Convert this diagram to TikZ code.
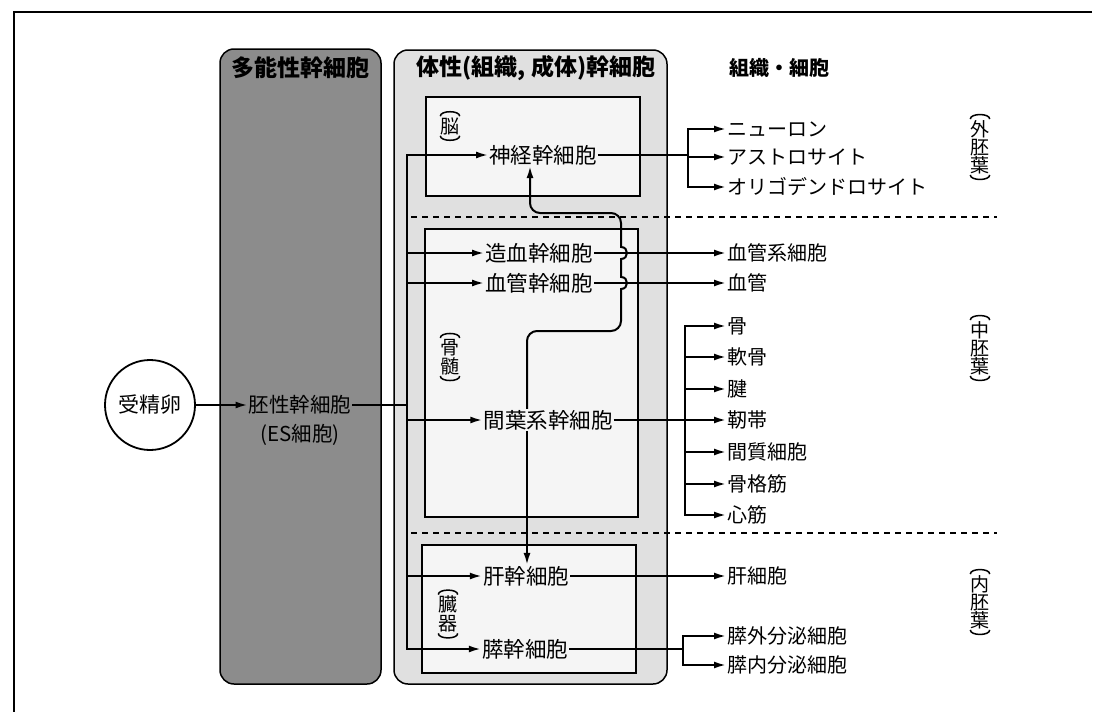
\documentclass[tikz,border=0pt]{standalone}
\usepackage{fontspec}
\setmainfont{Noto Sans CJK JP}
\usetikzlibrary{arrows.meta,calc}
\newcommand{\vparens}[1]{%
  \draw[parc] ([yshift=1pt]#1.north west) .. controls +(0,-6) and +(0,-6) .. ([yshift=1pt]#1.north east);
  \draw[parc] ([yshift=-1pt]#1.south west) .. controls +(0,6) and +(0,6) .. ([yshift=-1pt]#1.south east);}
\begin{document}
\begin{tikzpicture}[x=1pt,y=-1pt,
  every node/.style={inner sep=1pt, font=\fontsize{21.5}{24}\selectfont},
  ln/.style={line width=2pt},
  arr/.style={ln,-{Latex[length=12pt,width=7pt]}},
  hdr/.style={font=\fontsize{23}{26}\selectfont\bfseries},
  item/.style={anchor=west, font=\fontsize{20}{22}\selectfont},
  vlab/.style={align=center, font=\fontsize{19}{19}\selectfont, inner sep=0pt},
  rlab/.style={align=center, font=\fontsize{19}{18}\selectfont, inner sep=0pt},
  parc/.style={line width=1.5pt},
  inbox/.style={draw, line width=1.6pt, fill=black!4},
  layerline/.style={line width=1.8pt, dash pattern=on 6pt off 5pt}
]
\useasboundingbox (0,0) rectangle (1096,712);
% frame
\draw[line width=2pt] (1092,12) -- (14,12) -- (14,712);
% big boxes
\draw[rounded corners=14pt, fill=black!45, line width=1.5pt] (220,49) rectangle (381,684);
\draw[rounded corners=14pt, fill=black!12, line width=1.5pt] (394,50) rectangle (667,684);
% inner boxes
\draw[inbox] (426,97) rectangle (640,196);
\draw[inbox] (425,229) rectangle (638,517);
\draw[inbox] (422,545) rectangle (636,673);
% layer lines
\draw[layerline] (411,217) -- (997,217);
\draw[layerline] (411,533) -- (997,533);
% headers
\node[hdr] (h1) at (300,68) {多能性幹細胞};
\node[hdr] (h2) at (536,68) {体性(組織, 成体)幹細胞};
\node[hdr, font=\fontsize{20}{22}\selectfont\bfseries] (h3) at (779,68) {組織・細胞};
% organ labels
\node[vlab] (lbrain) at (450,126) {脳};
\node[vlab] (lmarrow) at (450,357) {骨\\髄};
\node[vlab] (lorgan) at (448,614) {臓\\器};
\vparens{lbrain}
\vparens{lmarrow}
\vparens{lorgan}
% germ layer labels
\node[rlab] (ecto) at (980,147) {外\\胚\\葉};
\node[rlab] (meso) at (980,348) {中\\胚\\葉};
\node[rlab] (endo) at (980,602) {内\\胚\\葉};
\vparens{ecto}
\vparens{meso}
\vparens{endo}
% zygote and ES
\node[circle, draw, line width=1.8pt, minimum size=90pt, inner sep=0pt, font=\fontsize{21}{24}\selectfont] (zyg) at (150,405) {受精卵};
\node[font=\fontsize{20.5}{24}\selectfont] (es) at (300,405) {胚性幹細胞};
\node[font=\fontsize{20.5}{24}\selectfont] (esl) at (300,435) {(ES細胞)};
% somatic stem cells
\node (ns) at (543,155) {神経幹細胞};
\node (hs) at (539,253) {造血幹細胞};
\node (vs) at (539,283) {血管幹細胞};
\node (ms) at (548,420) {間葉系幹細胞};
\node (ls) at (526,576) {肝幹細胞};
\node (ps) at (525,649) {膵幹細胞};
% products
\node[item] (neu) at (726,129) {ニューロン};
\node[item] (ast) at (726,157) {アストロサイト};
\node[item] (oli) at (726,187) {オリゴデンドロサイト};
\node[item] (hsc) at (726,253) {血管系細胞};
\node[item] (vas) at (726,283) {血管};
\node[item] (bone) at (726,326) {骨};
\node[item] (cart) at (726,357) {軟骨};
\node[item] (tend) at (726,389) {腱};
\node[item] (liga) at (726,420) {靭帯};
\node[item] (strm) at (726,452) {間質細胞};
\node[item] (skel) at (726,484) {骨格筋};
\node[item] (card) at (726,515) {心筋};
\node[item] (hep) at (726,576) {肝細胞};
\node[item] (exo) at (726,636) {膵外分泌細胞};
\node[item] (endc) at (726,665) {膵内分泌細胞};
% helper coordinates
\coordinate (dx) at (407,0);
\coordinate (brN) at (688,0);
\coordinate (brM) at (685,0);
\coordinate (brP) at (683,0);
\coordinate (cx) at (527,0);
\coordinate (cx2) at (530,0);
% zygote -> ES
\draw[arr] (zyg.east |- es.west) -- (es.west);
% distribution line
\draw[ln] (es.east) -- (dx |- es.east);
\draw[ln, line cap=rect] (dx |- ns.west) -- (dx |- ps.west);
\draw[arr] (dx |- ns.west) -- (ns.west);
\draw[arr] (dx |- hs.west) -- (hs.west);
\draw[arr] (dx |- vs.west) -- (vs.west);
\draw[arr] (dx |- ms.west) -- (ms.west);
\draw[arr] (dx |- ls.west) -- (ls.west);
\draw[arr] (dx |- ps.west) -- (ps.west);
% neural outputs
\draw[ln] (ns.east) -- (brN |- ns.east);
\draw[ln, line cap=rect] (brN |- neu.west) -- (brN |- oli.west);
\draw[arr] (brN |- neu.west) -- (neu.west);
\draw[arr] (brN |- ast.west) -- (ast.west);
\draw[arr] (brN |- oli.west) -- (oli.west);
% blood
\draw[arr] (hs.east) -- (hsc.west);
\draw[arr] (vs.east) -- (vas.west);
% mesenchymal outputs
\draw[ln] (ms.east) -- (brM |- ms.east);
\draw[ln, line cap=rect] (brM |- bone.west) -- (brM |- card.west);
\foreach \t in {bone,cart,tend,liga,strm,skel,card}
  \draw[arr] (brM |- \t.west) -- (\t.west);
% liver
\draw[arr] (ls.east) -- (hep.west);
% pancreas
\draw[ln] (ps.east) -- (brP |- ps.east);
\draw[ln, line cap=rect] (brP |- exo.west) -- (brP |- endc.west);
\draw[arr] (brP |- exo.west) -- (exo.west);
\draw[arr] (brP |- endc.west) -- (endc.west);
% mesenchymal -> liver
\draw[arr] (cx |- ms.south) -- (cx |- ls.north);
% mesenchymal -> neural (with hops)
\draw[arr] (cx |- ms.north) -- (527,341)
  .. controls (527,335.5) and (531.5,331) .. (537,331)
  -- (611,331) .. controls (616.5,331) and (621,326.5) .. (621,321)
  -- (621,289) .. controls (629,289) and (629,277) .. (621,277)
  -- (621,259) .. controls (629,259) and (629,247) .. (621,247)
  -- (621,223) .. controls (621,217.5) and (616.5,213) .. (611,213)
  -- (540,213) .. controls (534.5,213) and (530,208.5) .. (530,203)
  -- (cx2 |- ns.south);
\end{tikzpicture}
\end{document}
